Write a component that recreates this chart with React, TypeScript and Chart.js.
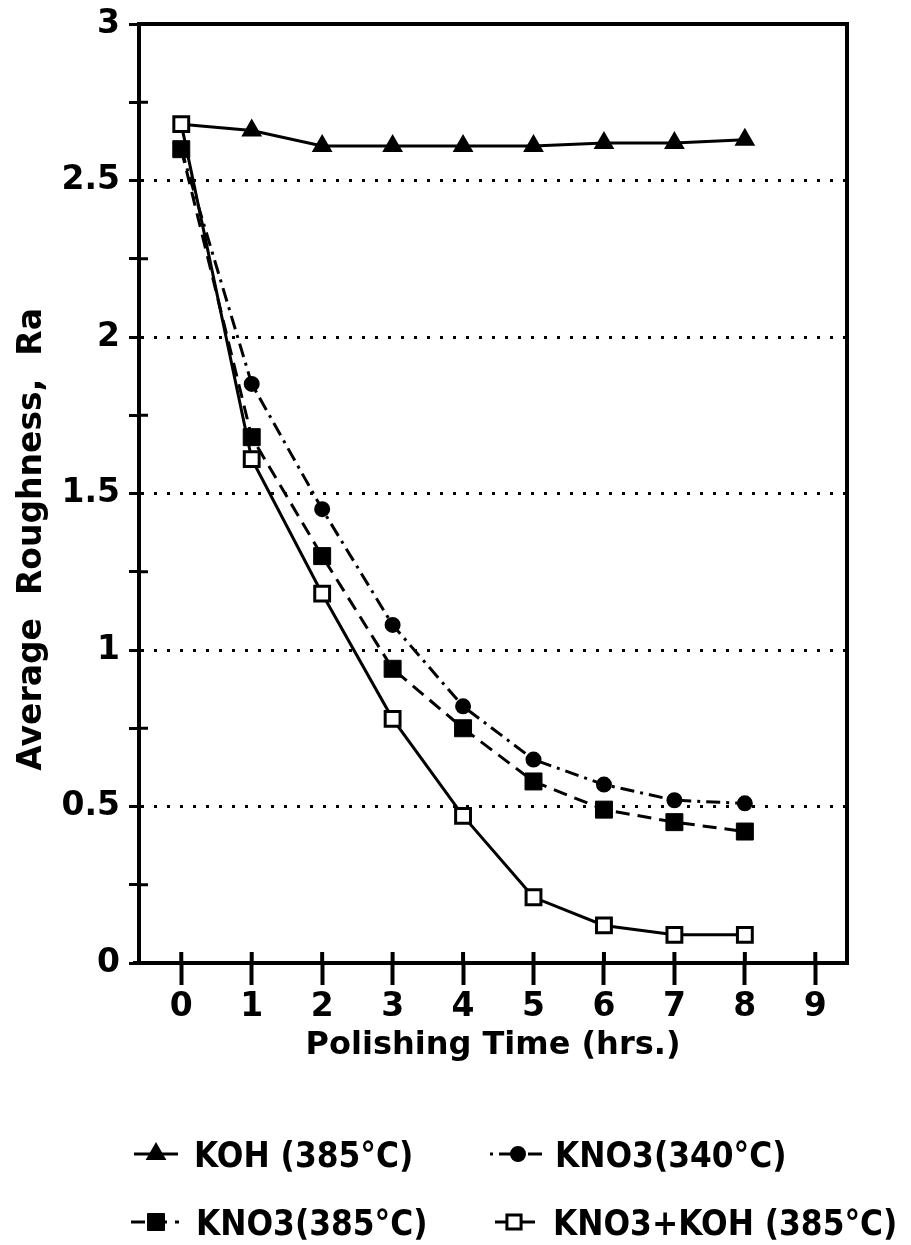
import React, { useEffect, useRef } from 'react';
import { Chart, registerables } from 'chart.js';
import { drawPoint } from 'chart.js/helpers';

Chart.register(...registerables);

// ---- data ----
const hours = [0, 1, 2, 3, 4, 5, 6, 7, 8];
const kohAt385 = [2.68, 2.66, 2.61, 2.61, 2.61, 2.61, 2.62, 2.62, 2.63];
const kno3At340 = [2.6, 1.85, 1.45, 1.08, 0.82, 0.65, 0.57, 0.52, 0.51];
const kno3At385 = [2.6, 1.68, 1.3, 0.94, 0.75, 0.58, 0.49, 0.45, 0.42];
const kno3KohAt385 = [2.68, 1.61, 1.18, 0.78, 0.47, 0.21, 0.12, 0.09, 0.09];
const seriesLabels = ['KOH (385°C)', 'KNO3(340°C)', 'KNO3(385°C)', 'KNO3+KOH (385°C)'];
const xTickValues = [0, 1, 2, 3, 4, 5, 6, 7, 8, 9];
const yTickValues = [0, 0.25, 0.5, 0.75, 1, 1.25, 1.5, 1.75, 2, 2.25, 2.5, 2.75, 3];
const xTitle = 'Polishing Time (hrs.)';
const yTitle = 'Average  Roughness,  Ra';

// ---- layout (canvas coordinates; canvas top = page top) ----
const W = 895;
const H = 1245;
const legendSlots = [
  { x: 148, y: 1154, x0: 126, x1: 170, tx: 186 },
  { x: 510, y: 1154, x0: 482, x1: 534, tx: 547 },
  { x: 148, y: 1222, x0: 123, x1: 171, tx: 188 },
  { x: 506, y: 1222, x0: 487, x1: 527, tx: 545 },
];

const isMajor = (v: number) => Math.abs(v * 2 - Math.round(v * 2)) < 1e-9;

const framePlugin = {
  id: 'frameAndStubs',
  beforeDatasetsDraw(chart: any) {
    const { ctx, chartArea: a, scales } = chart;
    ctx.save();
    ctx.strokeStyle = '#000';
    ctx.setLineDash([]);
    ctx.lineWidth = 4;
    ctx.beginPath();
    ctx.moveTo(a.left - 2, a.top);
    ctx.lineTo(a.right, a.top);
    ctx.lineTo(a.right, a.bottom + 2);
    ctx.stroke();
    ctx.beginPath();
    ctx.moveTo(a.left - 6, a.bottom);
    ctx.lineTo(a.left, a.bottom);
    ctx.stroke();
    ctx.beginPath();
    scales.x.ticks.forEach((t: any) => {
      const px = scales.x.getPixelForValue(t.value);
      ctx.moveTo(px, a.bottom);
      ctx.lineTo(px, a.bottom - 11);
    });
    ctx.stroke();
    ctx.lineWidth = 3;
    ctx.beginPath();
    scales.y.ticks.forEach((t: any) => {
      if (isMajor(t.value)) return;
      const py = scales.y.getPixelForValue(t.value);
      ctx.moveTo(a.left, py);
      ctx.lineTo(a.left + 9, py);
    });
    ctx.stroke();
    ctx.restore();
  },
};

const legendPlugin = {
  id: 'twoColumnLegend',
  afterDraw(chart: any) {
    const { ctx } = chart;
    chart.data.datasets.forEach((ds: any, i: number) => {
      const s = legendSlots[i];
      ctx.save();
      ctx.strokeStyle = '#000';
      ctx.lineWidth = ds.borderWidth;
      ctx.setLineDash(ds.borderDash || []);
      ctx.lineDashOffset = ds.legendDashOffset || 0;
      ctx.beginPath();
      ctx.moveTo(s.x0, s.y);
      ctx.lineTo(s.x1, s.y);
      ctx.stroke();
      ctx.setLineDash([]);
      ctx.fillStyle = ds.pointBackgroundColor;
      ctx.strokeStyle = ds.pointBorderColor;
      ctx.lineWidth = ds.pointBorderWidth;
      drawPoint(ctx, { pointStyle: ds.pointStyle, radius: ds.legendRadius, borderWidth: ds.pointBorderWidth, rotation: 0 } as any, s.x, s.y);
      ctx.fillStyle = '#000';
      ctx.font = 'bold 36px "DejaVu Sans"';
      ctx.textAlign = 'left';
      ctx.textBaseline = 'alphabetic';
      ctx.translate(s.tx, s.y + 13);
      ctx.scale(0.87, 1);
      ctx.fillText(ds.label, 0, 0);
      ctx.restore();
    });
  },
};

export default function App() {
  const ref = useRef<HTMLCanvasElement | null>(null);

  useEffect(() => {
    if (!ref.current) return;
    const toPoints = (vals: number[]) => hours.map((h, i) => ({ x: h, y: vals[i] }));
    const chart = new Chart(ref.current, {
      type: 'line',
      data: {
        datasets: [
          {
            label: seriesLabels[0],
            data: toPoints(kohAt385),
            borderColor: '#000',
            borderWidth: 3,
            borderDash: [],
            pointStyle: 'triangle',
            pointRadius: (c: any) => (c.dataIndex === 0 ? 0 : 10),
            legendRadius: 10,
            pointBackgroundColor: '#000',
            pointBorderColor: '#000',
            pointBorderWidth: 2,
            order: 3,
          } as any,
          {
            label: seriesLabels[1],
            data: toPoints(kno3At340),
            borderColor: '#000',
            borderWidth: 3,
            borderDash: [14, 6, 3, 6],
            legendDashOffset: 20,
            pointStyle: 'circle',
            pointRadius: 7,
            legendRadius: 7,
            pointBackgroundColor: '#000',
            pointBorderColor: '#000',
            pointBorderWidth: 2,
            order: 1,
          } as any,
          {
            label: seriesLabels[2],
            data: toPoints(kno3At385),
            borderColor: '#000',
            borderWidth: 3,
            borderDash: [14, 8],
            pointStyle: 'rect',
            pointRadius: 12,
            legendRadius: 12,
            pointBackgroundColor: '#000',
            pointBorderColor: '#000',
            pointBorderWidth: 1,
            order: 2,
          } as any,
          {
            label: seriesLabels[3],
            data: toPoints(kno3KohAt385),
            borderColor: '#000',
            borderWidth: 3,
            borderDash: [],
            pointStyle: 'rect',
            pointRadius: 10.5,
            legendRadius: 10,
            pointBackgroundColor: '#fff',
            pointBorderColor: '#000',
            pointBorderWidth: 3,
            order: 0,
          } as any,
        ],
      },
      options: {
        responsive: false,
        animation: false,
        layout: { padding: { top: 24, right: 56, bottom: 180, left: 0 } },
        plugins: {
          legend: { display: false },
          tooltip: { enabled: false },
        },
        elements: { line: { tension: 0 } },
        scales: {
          x: {
            type: 'linear',
            min: -0.6,
            max: 9.45,
            afterBuildTicks: (s: any) => {
              s.ticks = xTickValues.map((v) => ({ value: v }));
            },
            afterFit: (s: any) => {
              s.height = 102;
              s.paddingLeft = 0;
              s.paddingRight = 0;
            },
            ticks: {
              color: '#000',
              font: { family: '"DejaVu Sans"', size: 33, weight: 'bold' },
              padding: 3,
              autoSkip: false,
              maxRotation: 0,
              callback: (v: any) => String(v),
            },
            grid: {
              display: true,
              drawOnChartArea: false,
              drawTicks: true,
              tickLength: 22,
              tickWidth: 4,
              tickColor: '#000',
            },
            border: { display: true, color: '#000', width: 4 },
            title: {
              display: true,
              text: xTitle,
              color: '#000',
              font: { family: '"DejaVu Sans"', size: 32, weight: 'bold' },
              padding: { top: 0, bottom: 0 },
            },
          },
          y: {
            type: 'linear',
            min: 0,
            max: 3,
            afterBuildTicks: (s: any) => {
              s.ticks = yTickValues.map((v) => ({ value: v }));
            },
            afterFit: (s: any) => {
              s.width = 131;
              s.paddingTop = 0;
              s.paddingBottom = 0;
            },
            ticks: {
              color: '#000',
              font: { family: '"DejaVu Sans"', size: 33, weight: 'bold' },
              padding: 9,
              autoSkip: false,
              callback: (v: any) => (isMajor(Number(v)) ? String(v) : ''),
            },
            grid: {
              display: true,
              drawOnChartArea: true,
              drawTicks: true,
              color: (c: any) =>
                c.tick && isMajor(c.tick.value) && c.tick.value > 0 && c.tick.value < 3 ? '#000' : 'rgba(0,0,0,0)',
              lineWidth: 3,
              tickLength: 10,
              tickWidth: 3,
              tickColor: '#000',
            },
            border: { display: true, color: '#000', width: 4, dash: [3, 10] },
            title: {
              display: true,
              text: yTitle + '        ',
              color: '#000',
              font: { family: '"DejaVu Sans"', size: 33, weight: 'bold' },
              padding: { top: 5, bottom: 0 },
            },
          },
        },
      } as any,
      plugins: [framePlugin, legendPlugin],
    });
    return () => chart.destroy();
  }, []);

  return (
    <div style={{ position: 'fixed', left: 8, top: 0, width: W, height: H, background: '#fff' }}>
      <canvas ref={ref} width={W} height={H} style={{ display: 'block' }} />
    </div>
  );
}
